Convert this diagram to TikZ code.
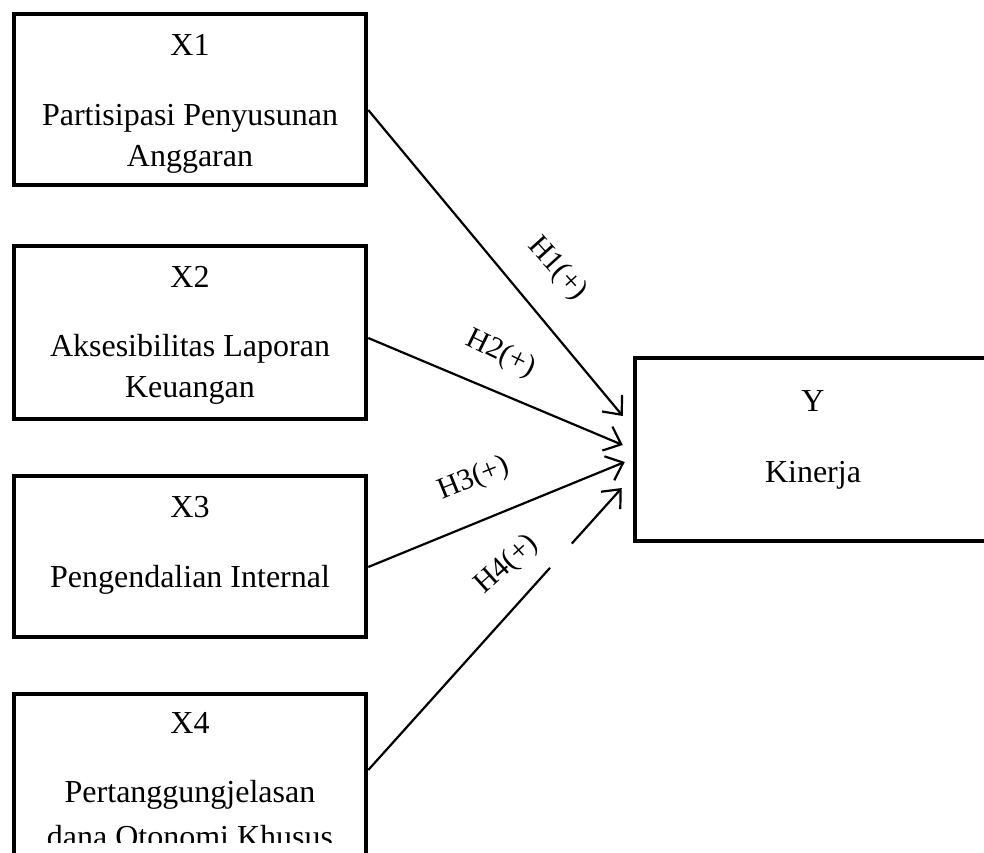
\documentclass[tikz,border=0pt]{standalone}
\usepackage{fontspec}
\setmainfont{Liberation Serif}
\usetikzlibrary{arrows.meta,calc}
\begin{document}
\begin{tikzpicture}[x=1pt,y=-1pt,
  box/.style={draw, line width=4.5pt, inner sep=0pt, minimum width=352pt},
  txt/.style={font=\fontsize{32}{38}\selectfont, anchor=base, inner sep=0pt},
  conn/.style={line width=2.2pt, -{Straight Barb[length=15pt,width=26pt,line width=2.2pt]}},
  hyp/.style={font=\fontsize{30}{34}\selectfont, inner sep=0pt}]
\useasboundingbox (0,0) rectangle (984,852);
% boxes
\node[box, minimum height=171pt] (x1) at (190,99.5) {};
\node[box, minimum height=173pt] (x2) at (190,332.5) {};
\node[box, minimum height=161pt] (x3) at (190,556.5) {};
\node[box, minimum height=200pt] (x4) at (190,794) {};
\node[box, minimum width=357pt, minimum height=183pt] (y) at (813.5,449.5) {};
% texts
\node[txt] (x1a) at (190,55) {X1};
\node[txt] (x1b) at (190,125) {Partisipasi Penyusunan};
\node[txt] (x1c) at (190,166) {Anggaran};
\node[txt] (x2a) at (190,287) {X2};
\node[txt] (x2b) at (190,356) {Aksesibilitas Laporan};
\node[txt] (x2c) at (190,397) {Keuangan};
\node[txt] (x3a) at (190,517) {X3};
\node[txt] (x3b) at (190,587) {Pengendalian Internal};
\node[txt] (x4a) at (190,733) {X4};
\node[txt] (x4b) at (190,802) {Pertanggungjelasan};
\begin{scope}
\clip (0,0) rectangle (984,842);
\node[txt] (x4c) at (190,847) {dana Otonomi Khusus};
\end{scope}
\node[txt] (ya) at (813,411) {Y};
\node[txt] (yb) at (813,482) {Kinerja};
% connectors
\coordinate (s1) at ([yshift=-10.5pt]x1.east);
\coordinate (e1) at ([xshift=-10pt,yshift=33.5pt]y.west);
\coordinate (s2) at ([yshift=-5.5pt]x2.east);
\coordinate (e2) at ([xshift=-10pt,yshift=4.5pt]y.west);
\coordinate (s3) at ([yshift=-10.5pt]x3.east);
\coordinate (e3) at ([xshift=-8pt,yshift=-12.5pt]y.west);
\coordinate (s4) at ([yshift=24pt]x4.east);
\coordinate (e4) at ([xshift=-11pt,yshift=-38.5pt]y.west);
\draw[conn] (s1) -- (e1);
\draw[conn] (s2) -- (e2);
\draw[conn] (s3) -- (e3);
\draw[conn] (s4) -- ($(s4)!0.717!(e4)$) ($(s4)!0.803!(e4)$) -- (e4);
% labels
\node[hyp, rotate=-48] (h1) at (557,269) {H1(+)};
\node[hyp, rotate=-26] (h2) at (501,354) {H2(+)};
\node[hyp, rotate=22] (h3) at (474,479) {H3(+)};
\node[hyp, rotate=42] (h4) at (507,565) {H4(+)};
\end{tikzpicture}
\end{document}
